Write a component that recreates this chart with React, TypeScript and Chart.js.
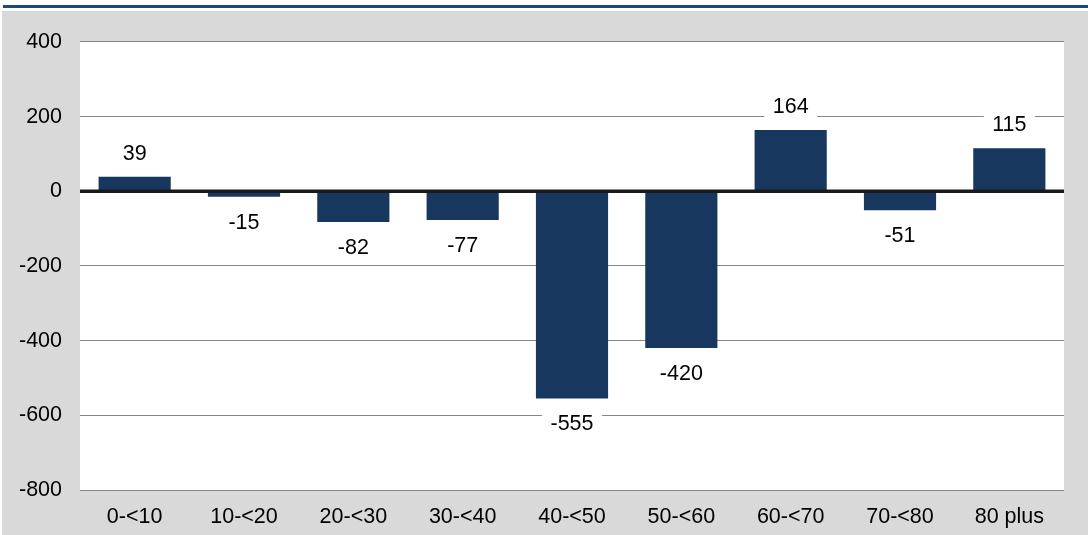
import React, { useEffect, useRef } from "react";
import { Chart, registerables } from "chart.js";

Chart.register(...registerables);

const categories = ["0-<10", "10-<20", "20-<30", "30-<40", "40-<50", "50-<60", "60-<70", "70-<80", "80 plus"];
const values = [39, -15, -82, -77, -555, -420, 164, -51, 115];
const yTicks = [400, 200, 0, -200, -400, -600, -800];

const FONT = "'Liberation Sans', Arial, sans-serif";
const FS = 21.5;

const plotBg = {
  id: "plotBg",
  beforeDraw(chart: any) {
    const { ctx, chartArea } = chart;
    ctx.save();
    ctx.fillStyle = "#ffffff";
    ctx.fillRect(chartArea.left, chartArea.top, chartArea.right - chartArea.left, chartArea.bottom - chartArea.top);
    ctx.restore();
  },
};

const overlay = {
  id: "overlay",
  afterDatasetsDraw(chart: any) {
    const { ctx, chartArea, scales } = chart;
    const y0 = scales.y.getPixelForValue(0);
    ctx.save();
    ctx.strokeStyle = "#1a1a1a";
    ctx.lineWidth = 3.5;
    ctx.beginPath();
    ctx.moveTo(chartArea.left, y0);
    ctx.lineTo(chartArea.right, y0);
    ctx.stroke();

    const meta = chart.getDatasetMeta(0);
    ctx.font = `${FS}px ${FONT}`;
    ctx.textAlign = "center";
    ctx.textBaseline = "middle";
    meta.data.forEach((bar: any, i: number) => {
      const v = values[i];
      const txt = String(v);
      const yEnd = scales.y.getPixelForValue(v);
      const cy = v >= 0 ? yEnd - 24 : yEnd + 25;
      const w = ctx.measureText(txt).width + 17;
      ctx.fillStyle = "#ffffff";
      ctx.fillRect(bar.x - w / 2, cy - 13, w, 26);
      ctx.fillStyle = "#000000";
      ctx.fillText(txt, bar.x, cy + 1);
    });
    ctx.restore();
  },
};

export default function App() {
  const ref = useRef<HTMLCanvasElement>(null);
  useEffect(() => {
    if (!ref.current) return;
    const chart = new Chart(ref.current, {
      type: "bar",
      data: {
        labels: categories,
        datasets: [
          {
            data: values,
            backgroundColor: "#17375e",
            borderWidth: 0,
            barPercentage: 0.66,
            categoryPercentage: 1,
          },
        ],
      },
      options: {
        animation: false,
        responsive: false,
        maintainAspectRatio: false,
        layout: { padding: { top: 30, right: 24, left: 0, bottom: 0 } },
        plugins: { legend: { display: false }, tooltip: { enabled: false } },
        scales: {
          x: {
            grid: { display: false, drawTicks: false },
            border: { display: false },
            ticks: { color: "#000", font: { family: FONT, size: FS }, padding: 14, maxRotation: 0 },
            afterFit(scale: any) {
              scale.height = 45;
            },
          },
          y: {
            min: -800,
            max: 400,
            afterBuildTicks(scale: any) {
              scale.ticks = yTicks.map((v) => ({ value: v }));
            },
            grid: { color: "#868686", lineWidth: 1, drawTicks: false },
            border: { display: false },
            ticks: { color: "#000", font: { family: FONT, size: FS }, padding: 18 },
            afterFit(scale: any) {
              scale.width = 78;
            },
          },
        },
      },
      plugins: [plotBg, overlay],
    });
    return () => chart.destroy();
  }, []);

  return (
    <div style={{ position: "absolute", left: 0, top: 0, width: 1088, height: 535, background: "#ffffff", overflow: "hidden" }}>
      <div style={{ position: "absolute", left: 3, top: 5, width: 1085, height: 3, background: "#1f497d" }} />
      <div style={{ position: "absolute", left: 2, top: 11, width: 1086, height: 524, background: "#d9d9d9" }}>
        <canvas ref={ref} width={1086} height={524} style={{ display: "block" }} />
      </div>
    </div>
  );
}
